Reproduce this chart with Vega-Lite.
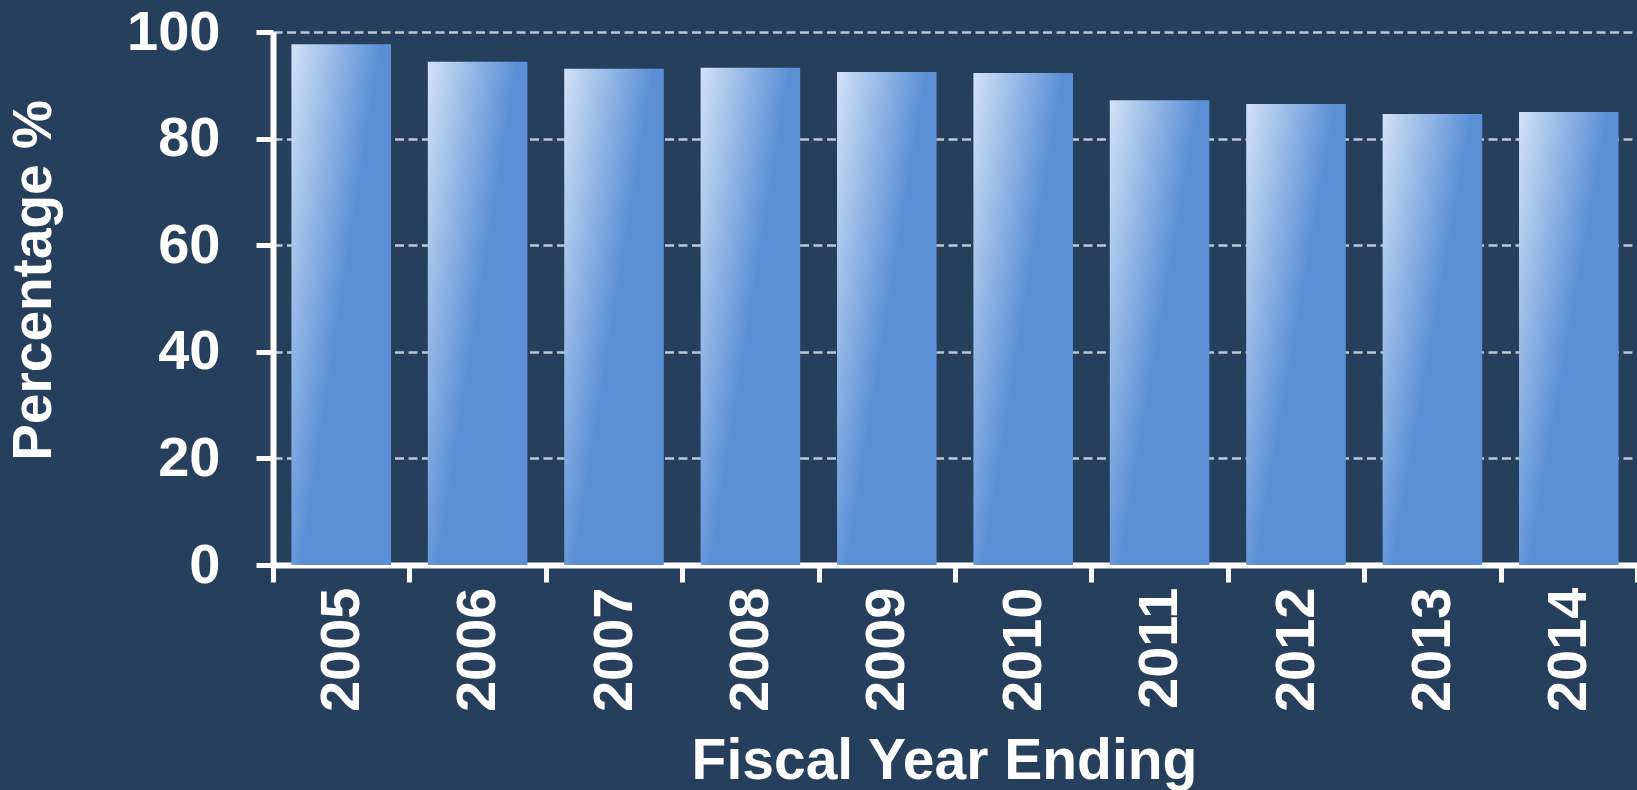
{
  "$schema": "https://vega.github.io/schema/vega-lite/v6.json",
  "autosize": {"type": "none"},
  "padding": {"left": 273, "top": 32, "right": 0, "bottom": 225},
  "width": 1364,
  "height": 533,
  "background": "#263f5c",
  "data": {
    "values": [
      {"year": "2005", "pct": 97.7},
      {"year": "2006", "pct": 94.4},
      {"year": "2007", "pct": 93.1},
      {"year": "2008", "pct": 93.3},
      {"year": "2009", "pct": 92.5},
      {"year": "2010", "pct": 92.3},
      {"year": "2011", "pct": 87.2},
      {"year": "2012", "pct": 86.5},
      {"year": "2013", "pct": 84.6},
      {"year": "2014", "pct": 85.0}
    ]
  },
  "mark": {
    "type": "bar",
    "width": {"band": 0.73},
    "color": {
      "gradient": "linear",
      "x1": 0, "y1": 0, "x2": 1, "y2": 0.8,
      "stops": [
        {"offset": 0, "color": "#d2e2f6"},
        {"offset": 0.55, "color": "#5a8fd6"},
        {"offset": 1, "color": "#5a8fd6"}
      ]
    }
  },
  "encoding": {
    "x": {
      "field": "year",
      "type": "ordinal",
      "sort": null,
      "scale": {"paddingInner": 0, "paddingOuter": 0},
      "axis": {
        "title": "Fiscal Year Ending",
        "titleFont": "Liberation Sans",
        "titleFontSize": 57,
        "titleFontWeight": "bold",
        "titleColor": "#ffffff",
        "titleX": 671,
        "titleY": 213,
        "titleBaseline": "alphabetic",
        "titleAlign": "center",
        "labelAngle": -90,
        "labelFont": "Liberation Sans",
        "labelFontSize": 56,
        "labelFontWeight": "bold",
        "labelColor": "#ffffff",
        "labelPadding": 5,
        "labelOverlap": false,
        "labelFlush": false,
        "tickSize": 17,
        "tickWidth": 5,
        "tickColor": "#ffffff",
        "tickBand": "extent",
        "domainColor": "#ffffff",
        "domainWidth": 6,
        "grid": false
      }
    },
    "y": {
      "field": "pct",
      "type": "quantitative",
      "scale": {"domain": [0, 100], "nice": false},
      "axis": {
        "title": "Percentage %",
        "titleFont": "Liberation Sans",
        "titleFontSize": 55,
        "titleFontWeight": "bold",
        "titleColor": "#ffffff",
        "titleX": -223,
        "titleY": 248,
        "titleBaseline": "alphabetic",
        "titleAlign": "center",
        "titleAngle": -90,
        "values": [0, 20, 40, 60, 80, 100],
        "labelFont": "Liberation Sans",
        "labelFontSize": 56,
        "labelFontWeight": "bold",
        "labelColor": "#ffffff",
        "labelPadding": 36,
        "labelFlush": false,
        "labelOverlap": false,
        "tickSize": 17,
        "tickWidth": 5,
        "tickColor": "#ffffff",
        "domainColor": "#ffffff",
        "domainWidth": 6,
        "grid": true,
        "gridColor": "#c0c7cf",
        "gridDash": [9, 4.5],
        "gridWidth": 2.5
      }
    }
  },
  "config": {"view": {"stroke": null}, "font": "Liberation Sans"}
}
